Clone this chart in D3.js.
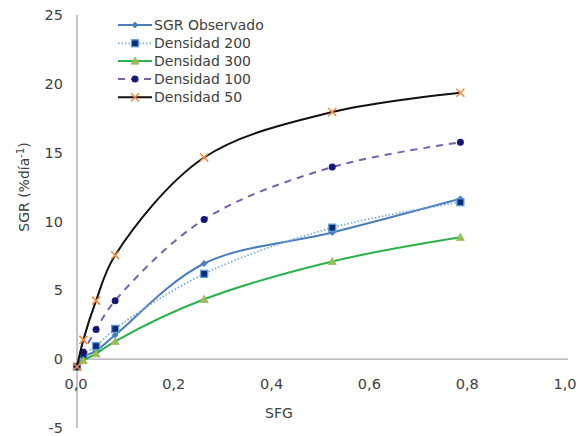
<!DOCTYPE html>
<html><head><meta charset="utf-8">
<script src="https://cdn.jsdelivr.net/npm/d3@7"></script>
<style>body{margin:0;background:#fff}svg{display:block}</style>
</head><body><svg id="c" width="585" height="436"></svg>
<script>
const sfg = [0, 0.013, 0.039, 0.078, 0.26, 0.522, 0.784];
const sgrObservado = [-0.55, 0.15, 0.6, 1.75, 6.95, 9.2, 11.65];
const densidad200 = [-0.55, 0.3, 0.95, 2.2, 6.2, 9.55, 11.4];
const densidad300 = [-0.55, -0.1, 0.4, 1.3, 4.35, 7.1, 8.85];
const densidad100 = [-0.55, 0.5, 2.15, 4.25, 10.15, 13.95, 15.75];
const densidad50 = [-0.55, 1.4, 4.25, 7.55, 14.65, 17.95, 19.35];
const seriesNames = ["SGR Observado", "Densidad 200", "Densidad 300", "Densidad 100", "Densidad 50"];
const xTicks = [0, 0.2, 0.4, 0.6, 0.8, 1.0];
const yTicks = [-5, 0, 5, 10, 15, 20, 25];

const svg = d3.select("#c");
const x = d3.scaleLinear().domain([0, 1]).range([77, 566]);
const y = d3.scaleLinear().domain([-5, 25]).range([428, 15]);
const font = "'DejaVu Sans', Verdana, sans-serif";
const txt = "#404040";
const axisCol = "#a6a6a6";

// axes
svg.append("line").attr("x1", x(0)).attr("x2", x(0)).attr("y1", y(25)).attr("y2", y(-5))
  .attr("stroke", axisCol).attr("stroke-width", 1.3);
svg.append("line").attr("x1", x(0)).attr("x2", x(1) + 2).attr("y1", y(0)).attr("y2", y(0))
  .attr("stroke", axisCol).attr("stroke-width", 1.3);

const fmt = d => d3.format(".1f")(d).replace(".", ",");
svg.append("g").selectAll("text").data(xTicks).join("text")
  .attr("x", d => x(d) - 1).attr("y", 389).attr("text-anchor", "middle")
  .attr("font-family", font).attr("font-size", 14.5).attr("fill", txt).text(fmt);
svg.append("g").selectAll("text").data(yTicks).join("text")
  .attr("x", 63).attr("y", d => y(d) + 5).attr("text-anchor", "end")
  .attr("font-family", font).attr("font-size", 14.5).attr("fill", txt).text(d => d);

svg.append("text").attr("x", 279).attr("y", 418).attr("text-anchor", "middle")
  .attr("font-family", font).attr("font-size", 14).attr("fill", txt).text("SFG");
const yl = svg.append("text").attr("transform", "translate(29,187) rotate(-90)")
  .attr("text-anchor", "middle").attr("font-family", font).attr("font-size", 14).attr("fill", txt);
yl.append("tspan").text("SGR (%día");
yl.append("tspan").attr("dy", -5).attr("font-size", 10).text("-1");
yl.append("tspan").attr("dy", 5).text(")");

const styles = [
  {vals: sgrObservado, stroke: "#4a7ebb", dash: null, w: 2, marker: "diamond", mfill: "#4a7ebb", mstroke: "#4a7ebb", ms: 4},
  {vals: densidad200, stroke: "#7aaee0", dash: "1.5,2", w: 1.8, marker: "square", mfill: "#0a2a7a", mstroke: "#5fa0d8", ms: 7},
  {vals: densidad300, stroke: "#2cb24a", dash: null, w: 2, marker: "triangle", mfill: "#9bbb59", mstroke: "#9bbb59", ms: 8},
  {vals: densidad100, stroke: "#7b5fae", dash: "7,6", w: 2, marker: "circle", mfill: "#15157a", mstroke: "#15157a", ms: 7},
  {vals: densidad50, stroke: "#111111", dash: null, w: 2, marker: "x", mfill: "none", mstroke: "#f48a3c", ms: 8}
];

function drawMarker(g, type, cx, cy, s, fill, stroke) {
  const h = s / 2;
  if (type === "diamond") {
    g.append("path").attr("d", `M${cx},${cy-h-1}L${cx+h+1},${cy}L${cx},${cy+h+1}L${cx-h-1},${cy}Z`).attr("fill", fill).attr("stroke", stroke).attr("stroke-width", 0.8);
  } else if (type === "square") {
    g.append("rect").attr("x", cx - h).attr("y", cy - h).attr("width", s).attr("height", s).attr("fill", fill).attr("stroke", stroke).attr("stroke-width", 1.3);
  } else if (type === "triangle") {
    g.append("path").attr("d", `M${cx},${cy-h}L${cx+h},${cy+h*0.8}L${cx-h},${cy+h*0.8}Z`).attr("fill", fill).attr("stroke", stroke).attr("stroke-width", 0.8);
  } else if (type === "circle") {
    g.append("circle").attr("cx", cx).attr("cy", cy).attr("r", h).attr("fill", fill);
  } else if (type === "x") {
    g.append("path").attr("d", `M${cx-h},${cy-h}L${cx+h},${cy+h}M${cx-h},${cy+h}L${cx+h},${cy-h}`).attr("stroke", stroke).attr("stroke-width", 1.6).attr("fill", "none");
  }
}

const line = d3.line().x(d => x(d[0])).y(d => y(d[1])).curve(d3.curveCatmullRom.alpha(0.5));
styles.forEach(st => {
  const pts = sfg.map((v, i) => [v, st.vals[i]]);
  const g = svg.append("g");
  g.append("path").attr("d", line(pts)).attr("fill", "none").attr("stroke", st.stroke)
    .attr("stroke-width", st.w).attr("stroke-dasharray", st.dash);
  pts.forEach(p => drawMarker(g, st.marker, x(p[0]), y(p[1]), st.ms, st.mfill, st.mstroke));
});

// legend
const ly = [25, 43.3, 61, 79, 97.3];
styles.forEach((st, i) => {
  const g = svg.append("g");
  g.append("line").attr("x1", 118).attr("x2", 152).attr("y1", ly[i]).attr("y2", ly[i])
    .attr("stroke", st.stroke).attr("stroke-width", st.w).attr("stroke-dasharray", st.dash);
  drawMarker(g, st.marker, 135, ly[i], st.ms, st.mfill, st.mstroke);
  g.append("text").attr("x", 154).attr("y", ly[i] + 5).attr("font-family", font)
    .attr("font-size", 14).attr("fill", txt).text(seriesNames[i]);
});
</script></body></html>
